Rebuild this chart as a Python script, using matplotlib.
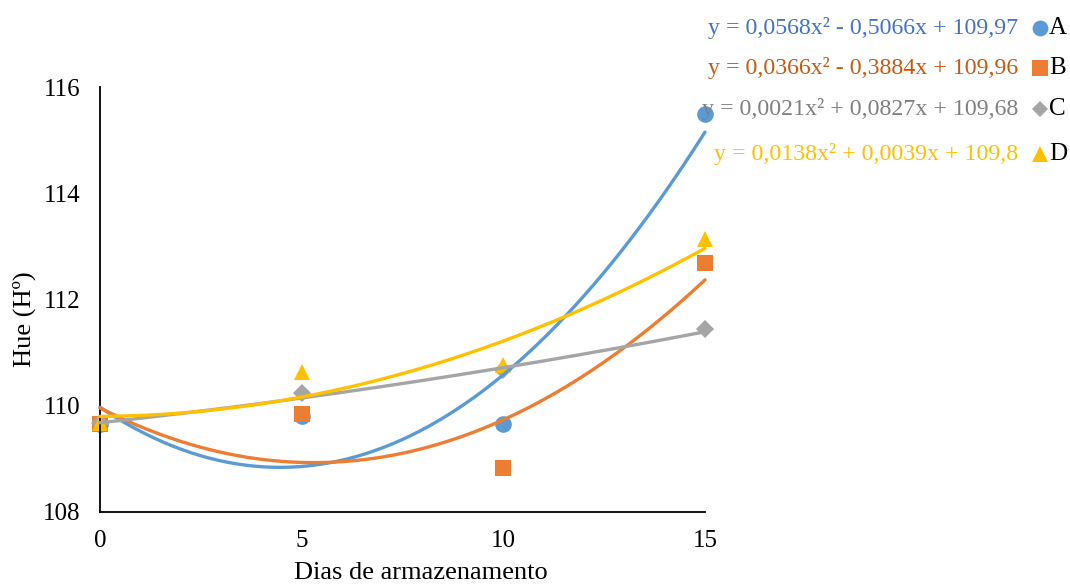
import matplotlib
matplotlib.use('Agg')
import matplotlib.pyplot as plt
import numpy as np

plt.rcParams['font.family'] = ['Liberation Serif', 'DejaVu Serif']

dias = [0, 5, 10, 15]
hue_a = [109.65, 109.80, 109.65, 115.50]
hue_b = [109.65, 109.85, 108.83, 112.68]
hue_c = [109.68, 110.24, 110.68, 111.45]
hue_d = [109.67, 110.63, 110.77, 113.14]

# quadratic trendline coefficients (a, b, c) for y = a*x^2 + b*x + c
coef_a = (0.0568, -0.5066, 109.97)
coef_b = (0.0366, -0.3884, 109.96)
coef_c = (0.0021, 0.0827, 109.68)
coef_d = (0.0138, 0.0039, 109.8)

eq_a = 'y = 0,0568x² - 0,5066x + 109,97'
eq_b = 'y = 0,0366x² - 0,3884x + 109,96'
eq_c = 'y = 0,0021x² + 0,0827x + 109,68'
eq_d = 'y = 0,0138x² + 0,0039x + 109,8'

names = ['A', 'B', 'C', 'D']
series = [hue_a, hue_b, hue_c, hue_d]
coefs = [coef_a, coef_b, coef_c, coef_d]
eqs = [eq_a, eq_b, eq_c, eq_d]
colors = ['#5B9BD5', '#ED7D31', '#A5A5A5', '#FFC000']
eq_colors = ['#4472C4', '#C55A11', '#808080', '#FFC000']
markers = ['o', 's', 'D', '^']
msizes = [12, 12, 9, 12]

W, H = 1070, 585

fig = plt.figure(figsize=(W / 100, H / 100), dpi=100)
ax = fig.add_axes([100 / W, 1 - 512 / H, 605 / W, 425 / H])

for y, c, m, s in zip(series, colors, markers, msizes):
    ax.plot(dias, y, linestyle='none', marker=m, markersize=s, color=c,
            markeredgewidth=0, clip_on=False, zorder=2)

xs = np.linspace(0, 15, 200)
for (a, b, c0), c in zip(coefs, colors):
    ax.plot(xs, a * xs**2 + b * xs + c0, color=c, linewidth=2.4,
            solid_capstyle='round', zorder=3, clip_on=False)

ax.set_xlim(0, 15)
ax.set_ylim(108, 116)
ax.set_xticks([0, 5, 10, 15])
ax.set_yticks([108, 110, 112, 114, 116])
ax.tick_params(length=0, labelsize=18, pad=13)
ax.tick_params(axis='y', pad=14)
for side in ['top', 'right']:
    ax.spines[side].set_visible(False)
for side in ['left', 'bottom']:
    ax.spines[side].set_linewidth(1.3)

# axis titles placed in figure coordinates
fig.text(421 / W, 6 / H, 'Dias de armazenamento', fontsize=19,
         ha='center', va='baseline')
fig.text(24 / W, 1 - 319 / H, 'Hue (Hº)', fontsize=19, rotation=90,
         ha='center', va='center')

# equations with series markers, outside the axes on the right
rows_y = [28, 68, 109, 154]
for eq, ec, c, m, s, n, py in zip(eqs, eq_colors, colors, markers, msizes, names, rows_y):
    fy = 1 - py / H
    fig.text(1018 / W, fy, eq, color=ec, fontsize=17.2, ha='right', va='center')
    fig.lines.append(plt.Line2D([1040 / W], [fy], transform=fig.transFigure,
                                marker=m, markersize=s * 0.95, color=c,
                                markeredgewidth=0, linestyle='none'))
    fig.text(1049 / W, fy, n, color='black', fontsize=18, ha='left', va='center')

fig.savefig('out.png', dpi=100)
